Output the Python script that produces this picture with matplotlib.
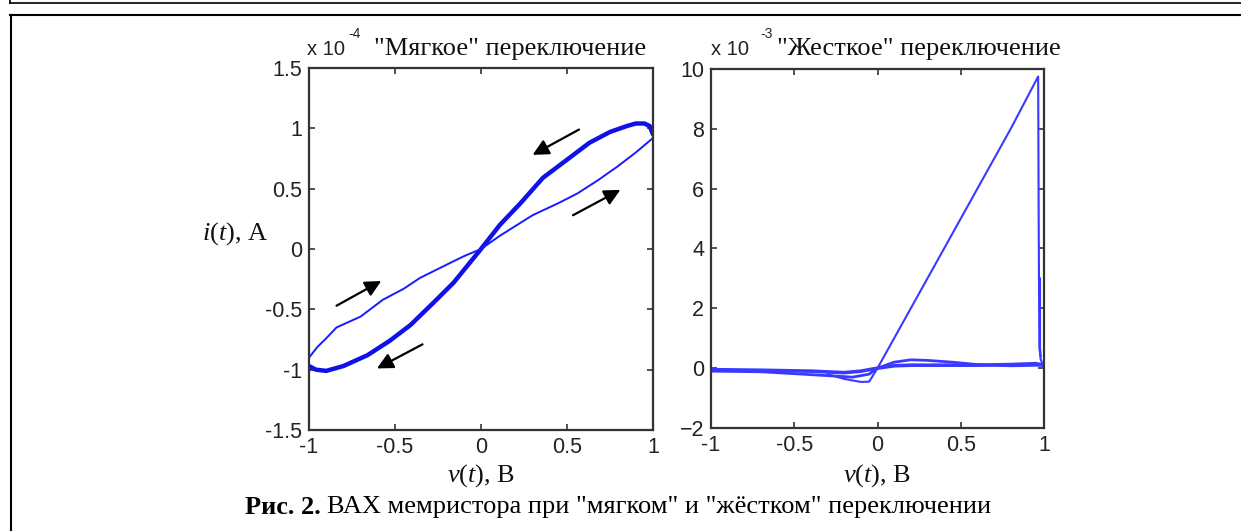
import numpy as np
import matplotlib
matplotlib.use('Agg')
import matplotlib.pyplot as plt
from matplotlib.lines import Line2D

plt.rcParams['mathtext.fontset'] = 'custom'
plt.rcParams['mathtext.rm'] = 'Liberation Serif'
plt.rcParams['mathtext.it'] = 'Liberation Serif:italic'

W, H = 1241, 531

# "soft" switching, i in units of 1e-4 A
soft_back_v = [1.0, 0.98, 0.95, 0.9, 0.85, 0.75, 0.63, 0.5, 0.36, 0.23, 0.11, 0.0,
               -0.08, -0.16, -0.28, -0.41, -0.53, -0.66, -0.80, -0.9, -0.96, -1.0]
soft_back_i = [0.95, 1.02, 1.04, 1.04, 1.02, 0.97, 0.88, 0.74, 0.59, 0.38, 0.2, 0.0,
               -0.14, -0.28, -0.45, -0.63, -0.76, -0.88, -0.97, -1.01, -1.0, -0.97]
soft_fwd_v = [-1.0, -0.95, -0.9, -0.84, -0.7, -0.57, -0.45, -0.355, -0.2, -0.1, 0.0,
              0.11, 0.3, 0.45, 0.56, 0.68, 0.79, 0.9, 1.0]
soft_fwd_i = [-0.9, -0.81, -0.74, -0.65, -0.56, -0.42, -0.33, -0.24, -0.13, -0.06, 0.0,
              0.11, 0.28, 0.38, 0.46, 0.57, 0.68, 0.8, 0.92]
# arrows (tail -> head) in data units
soft_arrows = [((0.57, 0.99), (0.30, 0.78)),
               ((0.535, 0.28), (0.81, 0.49)),
               ((-0.84, -0.47), (-0.58, -0.265)),
               ((-0.34, -0.79), (-0.605, -0.99))]

# "hard" switching, i in units of 1e-3 A
hard_base_v = [-1.0, -0.7, -0.4, -0.2, -0.1, 0.0, 0.1, 0.2, 0.4, 0.6, 0.8, 0.95, 1.0]
hard_base_i = [-0.05, -0.07, -0.1, -0.15, -0.1, 0.0, 0.08, 0.1, 0.1, 0.1, 0.12, 0.15, 0.1]
hard_band_v = [-1.0, -0.7, -0.45, -0.3, -0.15, -0.05, 0.0, 0.1, 0.2, 0.3, 0.45, 0.6, 0.8, 1.0]
hard_band_i = [-0.1, -0.12, -0.2, -0.25, -0.3, -0.2, 0.0, 0.2, 0.28, 0.26, 0.2, 0.12, 0.08, 0.1]
hard_loop_v = [-0.3, -0.2, -0.1, -0.05, 0.0, 0.2, 0.4, 0.6, 0.8, 0.965, 0.968, 0.972, 0.98, 0.99, 1.0]
hard_loop_i = [-0.2, -0.36, -0.46, -0.45, 0.0, 2.0, 4.0, 6.0, 8.0, 9.75, 5.0, 0.7, 0.3, 0.15, 0.1]
hard_drop_v = [0.976, 0.976, 0.98]
hard_drop_i = [3.0, 0.7, 0.4]

serif = 'Liberation Serif'
sans = 'Liberation Sans'
big = 19

fig = plt.figure(figsize=(W / 100, H / 100), dpi=100)


def style_axes(ax):
    for s in ax.spines.values():
        s.set_linewidth(1.6)
        s.set_color('#333333')
    ax.tick_params(direction='in', length=4, width=1.2, top=True, right=True,
                   colors='#333333', labelcolor='#222222', pad=5)
    for lab in ax.get_xticklabels() + ax.get_yticklabels():
        lab.set_fontfamily(sans)
        lab.set_fontsize(15.5)


def px(x, y):
    return x / W, 1 - y / H


# left panel
ax1 = fig.add_axes([309 / W, 1 - 430 / H, 344 / W, 362 / H])
ax1.plot(soft_back_v, soft_back_i, color='#1010e8', lw=3.2, solid_capstyle='round')
ax1.plot(soft_fwd_v, soft_fwd_i, color='#1a1aff', lw=1.4)
for tail, head in soft_arrows:
    ax1.annotate('', xy=head, xytext=tail,
                 arrowprops=dict(arrowstyle='-|>', color='black', lw=1.6,
                                 mutation_scale=24, shrinkA=0, shrinkB=0))
ax1.set_xlim(-1, 1)
ax1.set_ylim(-1.5, 1.5)
ax1.set_xticks([-1, -0.5, 0, 0.5, 1])
ax1.set_xticklabels(['-1', '-0.5', '0', '0.5', '1'])
ax1.set_yticks([-1.5, -1, -0.5, 0, 0.5, 1, 1.5])
ax1.set_yticklabels(['-1.5', '-1', '-0.5', '0', '0.5', '1', '1.5'])
style_axes(ax1)

# right panel
ax2 = fig.add_axes([711 / W, 1 - 428 / H, 333 / W, 359 / H])
blue2 = '#3a3aff'
ax2.plot(hard_base_v, hard_base_i, color=blue2, lw=2.6)
ax2.plot(hard_band_v, hard_band_i, color=blue2, lw=2.0)
ax2.plot(hard_loop_v, hard_loop_i, color=blue2, lw=1.5)
ax2.plot(hard_drop_v, hard_drop_i, color=blue2, lw=1.5)
ax2.set_xlim(-1, 1)
ax2.set_ylim(-2, 10)
ax2.set_xticks([-1, -0.5, 0, 0.5, 1])
ax2.set_xticklabels(['-1', '-0.5', '0', '0.5', '1'])
ax2.set_yticks([-2, 0, 2, 4, 6, 8, 10])
style_axes(ax2)

# titles with exponent
fig.text(*px(307, 55), 'x 10', fontfamily=sans, fontsize=14.5, color='#222222')
fig.text(*px(348, 38), '-4', fontfamily=sans, fontsize=10, color='#222222')
fig.text(*px(374, 55), '"Мягкое" переключение', fontfamily=serif, fontsize=big, color='#111111')
fig.text(*px(711, 55), 'x 10', fontfamily=sans, fontsize=14.5, color='#222222')
fig.text(*px(760, 38), '-3', fontfamily=sans, fontsize=10, color='#222222')
fig.text(*px(777, 55), '"Жесткое" переключение', fontfamily=serif, fontsize=big, color='#111111')

# axis labels
fig.text(*px(268, 234), r'$i$($t$), A', fontfamily=serif, fontsize=big,
         ha='right', va='center', color='#111111')
fig.text(*px(481, 476), r'$v$($t$), B', fontfamily=serif, fontsize=big,
         ha='center', va='center', color='#111111')
fig.text(*px(877, 476), r'$v$($t$), B', fontfamily=serif, fontsize=big,
         ha='center', va='center', color='#111111')

# caption: bold part, then the rest right after it
cap = fig.text(*px(245, 507), 'Рис. 2.', fontfamily=serif, fontsize=big,
               fontweight='bold', va='center', color='black')
renderer = fig.canvas.get_renderer()
bb = cap.get_window_extent(renderer)
fig.text(bb.x1 / W + 6 / W, 1 - 507 / H,
         'ВАХ мемристора при "мягком" и "жёстком" переключении',
         fontfamily=serif, fontsize=big, va='center', color='black')

# page frame lines
fig.add_artist(Line2D([10 / W, 1], [1 - 3 / H, 1 - 3 / H], color='black', lw=1.2))
fig.add_artist(Line2D([10 / W, 10 / W], [1, 1 - 3 / H], color='black', lw=1.2))
fig.add_artist(Line2D([10 / W, 1], [1 - 14.5 / H, 1 - 14.5 / H], color='black', lw=1.5))
fig.add_artist(Line2D([10.5 / W, 10.5 / W], [0, 1 - 14.5 / H], color='black', lw=1.5))

fig.savefig('out.png', dpi=100)
